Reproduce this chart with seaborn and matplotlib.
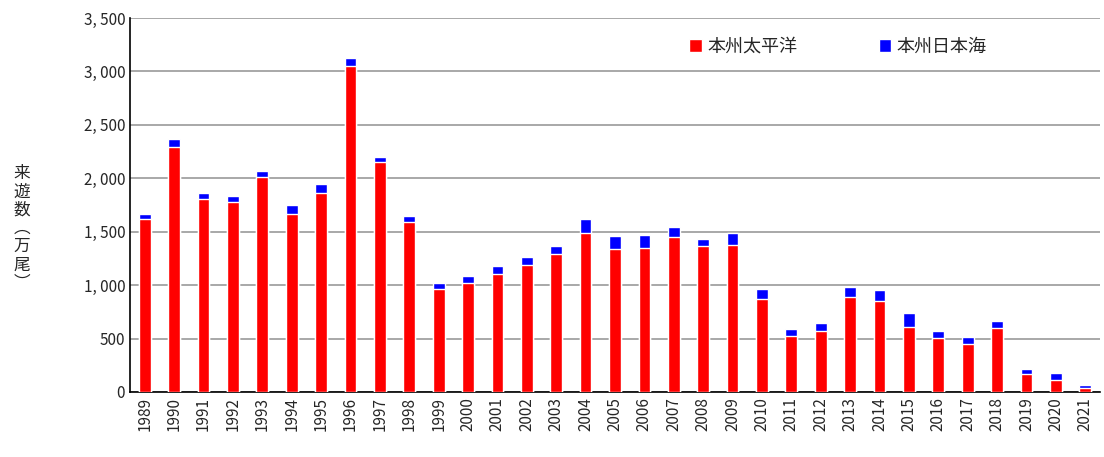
import matplotlib
matplotlib.use("Agg")
import matplotlib.pyplot as plt
import seaborn as sns
import numpy as np
import pandas as pd

years = list(range(1989, 2022))
pacific = [1616,2296,1804,1782,2008,1669,1863,3047,2155,1594,965,1021,1106,1187,1293,1491,
           1340,1349,1450,1365,1377,874,525,572,893,852,604,510,450,601,167,113,35]
total = [1669,2368,1863,1832,2070,1748,1945,3122,2199,1644,1021,1084,1181,1268,1362,1619,
         1459,1472,1541,1431,1491,962,594,642,981,959,736,575,516,664,217,182,63]
japansea = [t - p for t, p in zip(total, pacific)]
yticks = list(range(0, 3501, 500))

sns.set_style("white")
plt.rcParams['font.family'] = ['Noto Sans CJK JP', 'DejaVu Sans']

fig = plt.figure(figsize=(11.04, 4.57), dpi=100)
ax = fig.add_axes([130/1104, 1-392/457, 970/1104, 374/457])

df = pd.DataFrame({"year": [str(y) for y in years], "p": pacific, "t": total})
sns.barplot(data=df, x="year", y="t", color="#0000FF", saturation=1, width=0.4, ax=ax, zorder=3, label="本州日本海")
sns.barplot(data=df, x="year", y="p", color="#FF0000", saturation=1, width=0.4, ax=ax, zorder=4, label="本州太平洋")

ax.set_ylim(0, 3500)
ax.set_xlim(-0.5, len(years) - 0.5)
ax.set_yticks(yticks)
ax.set_yticklabels([f"{v:,}".replace(",", ", ") for v in yticks], fontsize=11)
ax.yaxis.grid(True, color="#999999", linewidth=1.2, zorder=0)
ax.set_axisbelow(True)
ax.set_xticks(np.arange(len(years)) - 0.5, minor=True)
ax.tick_params(axis="x", which="major", length=0, labelsize=11, rotation=90)
ax.tick_params(axis="x", which="minor", length=5, width=1, direction="out")
ax.tick_params(axis="y", length=0)
ax.set_xlabel("")
ax.set_ylabel("")
for s in ["top", "right"]:
    ax.spines[s].set_visible(False)
for s in ["left", "bottom"]:
    ax.spines[s].set_color("black")
    ax.spines[s].set_linewidth(1.2)

fig.text(22/1104, 0.5, "来\n遊\n数\n︵\n万\n尾\n︶", ha="center", va="center", fontsize=12, linespacing=1.1)

h, l = ax.get_legend_handles_labels()
order = [l.index("本州太平洋"), l.index("本州日本海")]
ax.legend([h[i] for i in order], [l[i] for i in order], loc="upper right", bbox_to_anchor=(0.9, 0.99),
          ncol=2, frameon=False, fontsize=13, handlelength=0.7, handleheight=0.7, columnspacing=4.5, handletextpad=0.3)

fig.savefig("out.png", dpi=100)
